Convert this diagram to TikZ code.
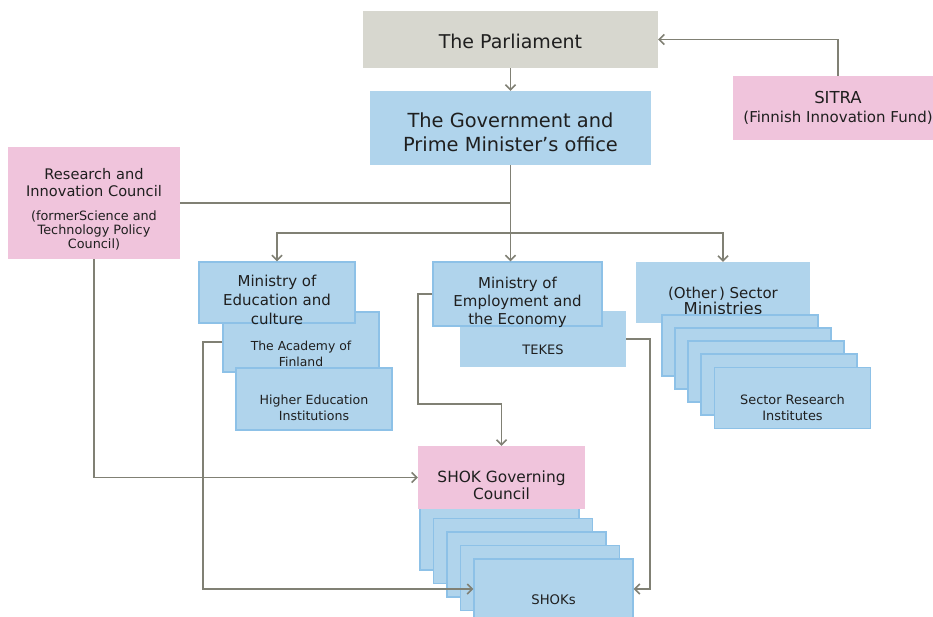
\documentclass[tikz,border=0pt]{standalone}
\usepackage{fontspec}
\setmainfont{DejaVu Sans}
\usetikzlibrary{arrows.meta}

\definecolor{boxblue}{RGB}{176,212,236}
\definecolor{edgeblue}{RGB}{141,193,231}
\definecolor{boxpink}{RGB}{240,196,220}
\definecolor{boxgray}{RGB}{215,215,207}
\definecolor{linkgray}{RGB}{128,128,116}

\newcommand\setfs[2]{\fontsize{#1}{#2}\selectfont}

\tikzset{box/.style={ % plain rectangle, size is given per node
            rectangle,
            inner sep=0pt},
        bluebox/.style={box, fill=boxblue},
        framed/.style={ % blue box with a darker rim
            bluebox,
            draw=edgeblue,
            line width=1.4pt},
        pinkbox/.style={box, fill=boxpink},
        graybox/.style={box, fill=boxgray},
        every label/.style={align=center, inner sep=0pt, text=black!88},
        plain/.style={draw=linkgray, line width=1.5pt},
        link/.style={ % connector with an open arrow head
            plain,
            -{Straight Barb[length=5pt, width=10pt]}}
        }

\begin{document}
\begin{tikzpicture}[x=1pt, y=-1pt]
    \useasboundingbox (0,0) rectangle (933,617);

    % top row
    \node[graybox, minimum width=295pt, minimum height=57pt,
        label={[yshift=-2pt, font=\setfs{19}{24}]center:The Parliament}] (parl) at (510.5,39.5) {};
    \node[bluebox, minimum width=281pt, minimum height=74pt,
        label={[yshift=-4pt, font=\setfs{19.4}{24}]center:The Government and\\Prime Minister's office}] (gov) at (510.5,128) {};
    \node[pinkbox, minimum width=210pt, minimum height=64pt,
        label={[font=\setfs{16.5}{19}]center:SITRA\\\setfs{15}{19}(Finnish Innovation Fund)}] (sitra) at (838,108) {};
    \node[pinkbox, minimum width=172pt, minimum height=112pt,
        label={[yshift=20pt, font=\setfs{14.6}{17}]center:Research and\\Innovation Council},
        label={[yshift=-27pt, font=\setfs{12.8}{14}]center:(formerScience and\\Technology Policy\\Council)}] (ric) at (94,203) {};

    % education
    \node[framed, minimum width=156pt, minimum height=60pt,
        label={[yshift=-12pt, font=\setfs{12.4}{16}]center:The Academy of\\Finland}] (aof) at (301,342) {};
    \node[framed, minimum width=156pt, minimum height=61pt,
        label={[yshift=-7pt, font=\setfs{15}{19}]center:Ministry of\\Education and\\culture}] (moe) at (277,292.5) {};
    \node[framed, minimum width=156pt, minimum height=62pt,
        label={[yshift=-9pt, font=\setfs{12.6}{16}]center:Higher Education\\Institutions}] (hei) at (314,399) {};

    % employment
    \node[bluebox, minimum width=166pt, minimum height=56pt,
        label={[yshift=-11pt, font=\setfs{13}{16}]center:TEKES}] (tekes) at (543,339) {};
    \node[framed, minimum width=169pt, minimum height=64pt,
        label={[yshift=-8pt, font=\setfs{15}{18}]center:Ministry of\\Employment and\\the Economy}] (mee) at (517.5,294) {};

    % other sectors
    \node[bluebox, minimum width=174pt, minimum height=61pt,
        label={[yshift=-8pt, font=\setfs{15}{16}]center:(Other\,) Sector\\\setfs{16.4}{16}Ministries}] (osm) at (723,292.5) {};
    \node[framed, minimum width=156pt, minimum height=61pt] (sri1) at (740,345.5) {};
    \node[framed, minimum width=156pt, minimum height=61pt] (sri2) at (753,358.5) {};
    \node[framed, minimum width=156pt, minimum height=61pt] (sri3) at (766,371.5) {};
    \node[framed, minimum width=156pt, minimum height=61pt] (sri4) at (779,384.5) {};
    \node[framed, minimum width=156pt, minimum height=61pt,
        label={[yshift=-10pt, font=\setfs{12.9}{16}]center:Sector Research\\Institutes}] (sri5) at (792.5,398) {};

    % SHOKs
    \node[framed, minimum width=159pt, minimum height=65pt] (shok1) at (499.5,537.5) {};
    \node[framed, minimum width=159pt, minimum height=65pt] (shok2) at (513,551) {};
    \node[framed, minimum width=159pt, minimum height=65pt] (shok3) at (526.5,564.5) {};
    \node[framed, minimum width=159pt, minimum height=65pt] (shok4) at (540,578) {};
    \node[framed, minimum width=159pt, minimum height=65pt,
        label={[yshift=-8pt, font=\setfs{13.2}{16}]center:SHOKs}] (shok5) at (553.5,591.5) {};
    \node[pinkbox, minimum width=167pt, minimum height=63pt,
        label={[yshift=-8pt, font=\setfs{15.4}{17}]center:SHOK Governing\\Council}] (gc) at (501.5,477.5) {};

    % connectors
    \coordinate (split) at (510.5,233);
    \coordinate (bendA) at (418,404);
    \coordinate (bendB) at (203,589);
    \coordinate (bendC) at (650,589);

    \draw[link] (sitra.north) |- (parl.east);
    \draw[link] (parl.south) -- (gov.north);
    \draw[plain] (gov.south) -- (split);
    \draw[plain] (ric.east) -- (ric.east -| gov.south);
    \draw[link] (split) -| (moe.north);
    \draw[link] (split) -- (split |- mee.north);
    \draw[link] (split) -| (osm.north);
    \draw[link] (ric.south) |- (gc.west);
    \draw[link] (mee.west) -| (bendA) -| (gc.north);
    \draw[link] (aof.west) -| (bendB) -- (bendB -| shok5.west);
    \draw[link] (tekes.east) -| (bendC) -- (bendC -| shok5.east);
\end{tikzpicture}
\end{document}
